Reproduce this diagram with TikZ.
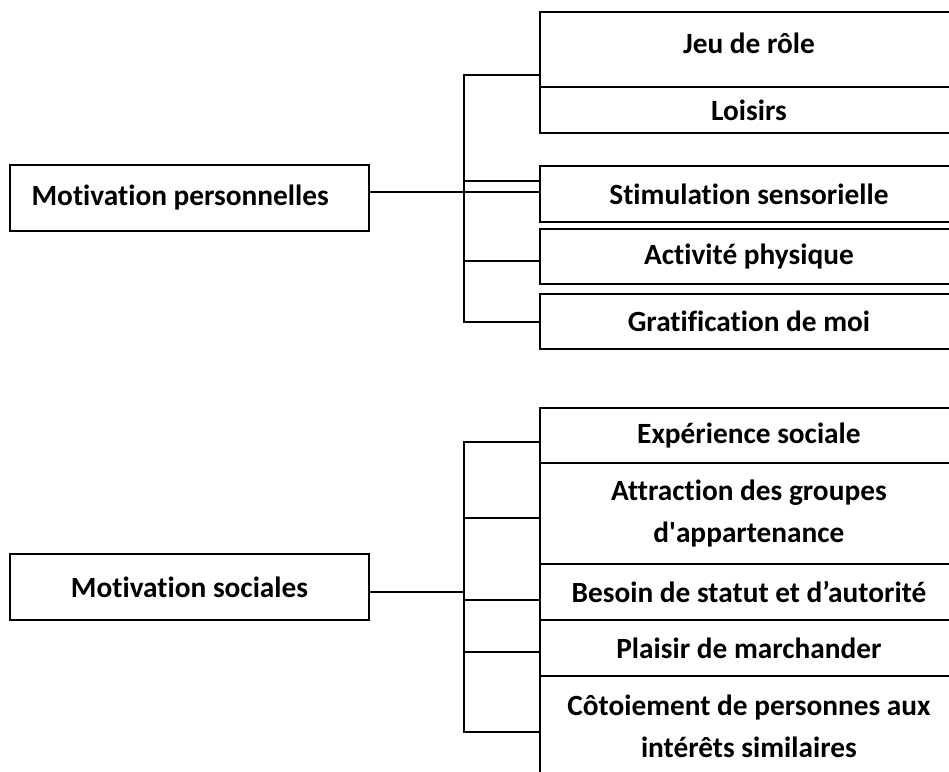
\documentclass[tikz,border=0pt]{standalone}
\usepackage{fontspec}
\setmainfont[Ligatures=NoCommon]{Carlito}
\begin{document}
\begin{tikzpicture}[x=0.75pt,y=-0.75pt,
  every node/.style={font=\bfseries\fontsize{22}{32}\selectfont},
  box/.style={draw, line width=1.4pt, inner sep=0pt, align=center},
  root/.style={box, minimum width=269.25pt, minimum height=49.5pt},
  leaf/.style={box, anchor=north west, minimum width=313.5pt, minimum height=#1},
  link/.style={line width=1.4pt}]
\useasboundingbox (0,0) rectangle (949,771);
\clip (0,0) rectangle (949,771);

% ---- personal motivations ----
\node[root] (mp) at (189.5,198) {\hspace*{-14pt}Motivation personnelles};
\node[leaf=56.25pt] (jeu)  at (539,11)  {\raisebox{9pt}{Jeu de rôle}};
\node[leaf=34.5pt]  (lois) at (539,86)  {Loisirs};
\node[leaf=42pt]    (stim) at (539,165) {Stimulation sensorielle};
\node[leaf=41.25pt] (act)  at (539,228) {Activité physique};
\node[leaf=41.25pt] (grat) at (539,293) {Gratification de moi};

\coordinate (p0) at (464,192);
\coordinate (p1) at (464,75);
\coordinate (p2) at (464,181);
\coordinate (p3) at (464,261);
\coordinate (p4) at (464,322);
\draw[link] (mp.east |- p0) -- (p0 -| stim.west);
\draw[link] (p1 -| jeu.west) -- (p1) -- (p4) -- (p4 -| grat.west);
\draw[link] (p2) -- (p2 -| stim.west);
\draw[link] (p3) -- (p3 -| act.west);

% ---- social motivations ----
\node[root] (ms) at (189.5,587) {Motivation sociales};
\node[leaf=41.25pt] (exp)  at (539,407) {Expérience sociale};
\node[leaf=75.75pt] (attr) at (539,462) {Attraction des groupes\\d\textquotesingle appartenance};
\node[leaf=42pt]    (bes)  at (539,563) {Besoin de statut et d’autorité};
\node[leaf=42pt]    (pla)  at (539,619) {Plaisir de marchander};
\node[leaf=75.75pt] (cot)  at (539,675) {Côtoiement de personnes aux\\intérêts similaires};

\coordinate (s0) at (464,592);
\coordinate (s1) at (464,442);
\coordinate (s2) at (464,518);
\coordinate (s3) at (464,600);
\coordinate (s4) at (464,652);
\coordinate (s5) at (464,732);
\draw[link] (ms.east |- s0) -- (s0);
\draw[link] (s1 -| exp.west) -- (s1) -- (s5) -- (s5 -| cot.west);
\draw[link] (s2) -- (s2 -| attr.west);
\draw[link] (s3) -- (s3 -| bes.west);
\draw[link] (s4) -- (s4 -| pla.west);
\end{tikzpicture}
\end{document}
